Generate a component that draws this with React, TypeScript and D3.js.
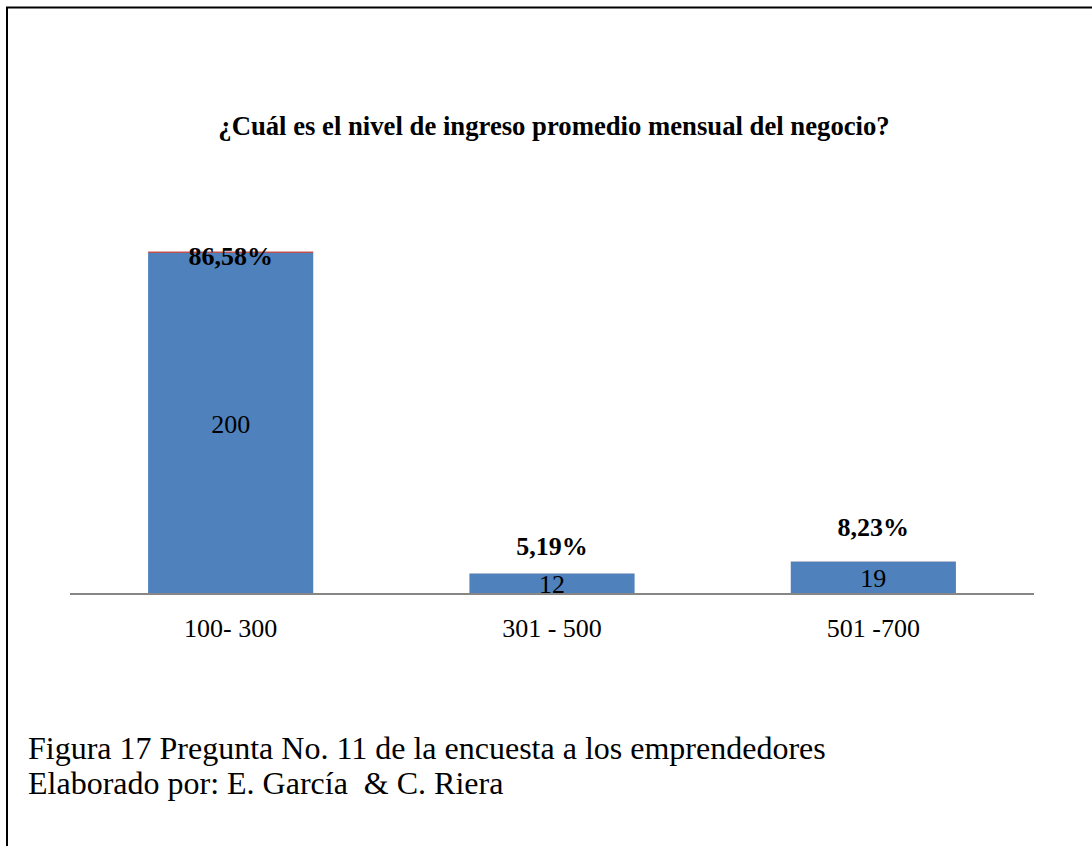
import React from "react";
import * as d3 from "d3";

const categories = ["100- 300", "301 - 500", "501 -700"];
const counts = [200, 12, 19];
const shares = [0.8658, 0.0519, 0.0823];
const shareLabels = ["86,58%", "5,19%", "8,23%"];
const title = "¿Cuál es el nivel de ingreso promedio mensual del negocio?";
const captionLines = ["Figura 17 Pregunta No. 11 de la encuesta a los emprendedores", "Elaborado por: E. García  & C. Riera"];

// layout: vertical offset (px) of the percentage label from the top of each stack
const shareLabelOffsets = [4, -28, -35];

const W = 1092;
const H = 846;
const plot = { left: 70, right: 1034, top: 100, bottom: 594 };

export default function App() {
  const x = d3.scaleBand<string>().domain(categories).range([plot.left, plot.right]).paddingInner(0.486).paddingOuter(0.243);
  const y = d3.scaleLinear().domain([0, 200]).range([plot.bottom, 253]);
  const font = "'Liberation Serif', 'Times New Roman', serif";

  return (
    <svg width={W} height={H} style={{ position: "absolute", left: 0, top: 0, display: "block" }}>
      <rect x={0} y={0} width={W} height={H} fill="#fff" />
      <line x1={6} y1={7.5} x2={W} y2={7.5} stroke="#000" strokeWidth={2} />
      <line x1={7} y1={7} x2={7} y2={H} stroke="#000" strokeWidth={2} />
      <text x={554} y={135} textAnchor="middle" fontFamily={font} fontWeight="bold" fontSize={26.7}>{title}</text>
      {categories.map((c, i) => {
        const x0 = x(c)!;
        const bw = x.bandwidth();
        const yTop = y(counts[i]);
        const yShareTop = y(counts[i] + shares[i]);
        return (
          <g key={c}>
            <rect x={x0} y={yTop} width={bw} height={plot.bottom - yTop} fill="#4F81BD" />
            <rect x={x0} y={yShareTop} width={bw} height={Math.max(yTop - yShareTop, 0)} fill="#C0504D" />
            <text x={x0 + bw / 2} y={(yTop + plot.bottom) / 2} dy="0.35em" textAnchor="middle" fontFamily={font} fontSize={26}>{counts[i]}</text>
            <text x={x0 + bw / 2} y={yShareTop + shareLabelOffsets[i]} dy="0.35em" textAnchor="middle" fontFamily={font} fontWeight="bold" fontSize={26}>{shareLabels[i]}</text>
            <text x={x0 + bw / 2} y={628} dy="0.35em" textAnchor="middle" fontFamily={font} fontSize={26}>{c}</text>
          </g>
        );
      })}
      <line x1={plot.left} y1={plot.bottom} x2={plot.right} y2={plot.bottom} stroke="#868686" strokeWidth={2} />
      {captionLines.map((t, i) => (
        <text key={i} x={28} y={759 + i * 35} fontFamily={font} fontSize={32} style={{ whiteSpace: "pre" }}>{t}</text>
      ))}
    </svg>
  );
}
